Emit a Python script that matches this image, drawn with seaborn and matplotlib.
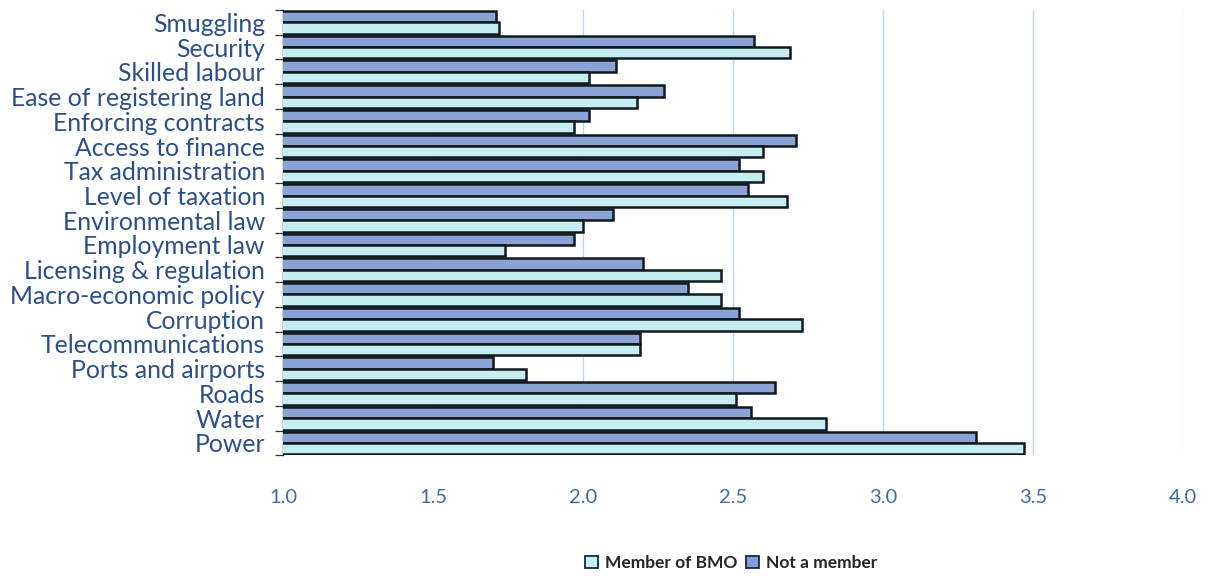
import matplotlib
matplotlib.use("Agg")
import matplotlib.pyplot as plt
import seaborn as sns
import pandas as pd
from matplotlib.patches import Patch

# Mean rating of each business constraint, by membership of a business membership organisation
constraints = [
    "Smuggling", "Security", "Skilled labour", "Ease of registering land",
    "Enforcing contracts", "Access to finance", "Tax administration",
    "Level of taxation", "Environmental law", "Employment law",
    "Licensing & regulation", "Macro-economic policy", "Corruption",
    "Telecommunications", "Ports and airports", "Roads", "Water", "Power",
]
not_member = [1.71, 2.57, 2.11, 2.27, 2.02, 2.71, 2.52, 2.55, 2.10, 1.97,
              2.20, 2.35, 2.52, 2.19, 1.70, 2.64, 2.56, 3.31]
member_bmo = [1.72, 2.69, 2.02, 2.18, 1.97, 2.60, 2.60, 2.68, 2.00, 1.74,
              2.46, 2.46, 2.73, 2.19, 1.81, 2.51, 2.81, 3.47]
group_names = ["Not a member", "Member of BMO"]
x_ticks = [1.0, 1.5, 2.0, 2.5, 3.0, 3.5, 4.0]

df = pd.DataFrame({
    "constraint": constraints * 2,
    "score": not_member + member_bmo,
    "group": [group_names[0]] * len(constraints) + [group_names[1]] * len(constraints),
})

colors = {"Not a member": "#7f9ee0", "Member of BMO": "#bff4f8"}
label_color = "#2b4f8c"
tick_color = "#3a6cad"

sns.set_theme(style="white")
plt.rcParams["font.family"] = ["Lato", "DejaVu Sans"]

fig = plt.figure(figsize=(12.13, 5.77), dpi=100)
ax = fig.add_axes([0.2333, 0.211, 0.9753 - 0.2333, 0.9827 - 0.211])

sns.barplot(data=df, y="constraint", x="score", hue="group",
            hue_order=group_names, order=constraints, orient="h",
            palette=colors, width=0.92, edgecolor="#101820", linewidth=1.8,
            legend=False, ax=ax, zorder=3)

ax.set_xlim(1.0, 4.0)
ax.set_ylim(len(constraints) - 0.5, -0.5)
ax.set_xticks(x_ticks)
ax.set_xticklabels([f"{t:.1f}" for t in x_ticks], fontsize=14.5, color=tick_color)
ax.tick_params(axis="x", length=0, pad=24)
ax.set_yticks(range(len(constraints)))
ax.set_yticklabels(constraints, fontsize=17.8, color=label_color)
ax.tick_params(axis="y", which="major", length=0, pad=13)
ax.set_yticks([i + 0.5 for i in range(-1, len(constraints))], minor=True)
ax.tick_params(axis="y", which="minor", length=6, width=0.9, color="#333333", left=True)
ax.set_xlabel("")
ax.set_ylabel("")

for x in x_ticks[1:]:
    ax.axvline(x, color="#c4d3e6", linewidth=1.0, zorder=0)

for side in ["top", "right", "bottom"]:
    ax.spines[side].set_visible(False)
ax.spines["left"].set_color("#222222")
ax.spines["left"].set_linewidth(1.0)

handles = [Patch(facecolor=colors["Member of BMO"], edgecolor="#1a2a3a", linewidth=1.3),
           Patch(facecolor=colors["Not a member"], edgecolor="#1a2a3a", linewidth=1.3)]
fig.legend(handles, ["Member of BMO", "Not a member"], loc="center",
           bbox_to_anchor=(0.603, 0.024), ncol=2, frameon=False,
           prop={"size": 12.5, "weight": "bold"}, handlelength=0.75, handleheight=0.75,
           handletextpad=0.4, columnspacing=0.5)

fig.savefig("out.png", dpi=100)
